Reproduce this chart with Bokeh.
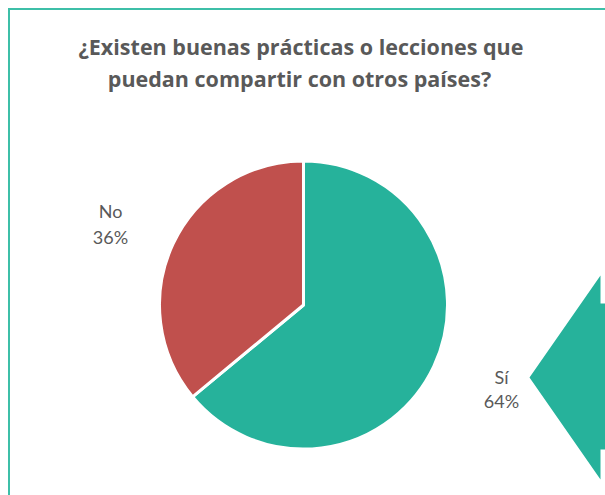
import math
from bokeh.plotting import figure
from bokeh.models import Range1d, ColumnDataSource
from bokeh.core.properties import value
from bokeh.embed import file_html
from bokeh.resources import INLINE

# ---- data ----
categories = ["Sí", "No"]
shares = [64, 36]
slice_colors = ["#26B29B", "#C0504D"]
title_lines = ["¿Existen buenas prácticas o lecciones que",
               "puedan compartir con otros países?"]

# decorative arrow shape (figure pixel space)
arrow_x = [529, 600, 600, 620, 620, 600, 600]
arrow_y = [118, 220, 192, 192, 46, 46, 16]

W, H = 605, 495
p = figure(width=W, height=H, x_range=Range1d(0, W), y_range=Range1d(0, H),
           output_backend="svg", toolbar_location=None, min_border=0)
p.axis.visible = False
p.grid.visible = False
p.outline_line_color = None
p.background_fill_color = "white"

# border (left and top visible)
p.line([8.5, 8.5], [-20, 487], line_color="#3DBFA8", line_width=2)
p.line([7.5, 620], [486.5, 486.5], line_color="#3DBFA8", line_width=2)

# pie
cx, cy, r = 303, 190.5, 144
total = sum(shares)
# Sí: clockwise from 12 o'clock; No: counterclockwise from 12 o'clock
si_ang = shares[0] / total * 2 * math.pi
no_ang = shares[1] / total * 2 * math.pi
starts = [math.pi / 2 - si_ang, math.pi / 2]
ends = [math.pi / 2, math.pi / 2 + no_ang]
src = ColumnDataSource(dict(x=[cx] * 2, y=[cy] * 2, start=starts, end=ends,
                            color=slice_colors))
p.wedge(x="x", y="y", radius=r, start_angle="start", end_angle="end",
        fill_color="color", line_color="white", line_width=3, source=src)

# arrow
p.patch(arrow_x, arrow_y, fill_color="#26B29B", line_color=None)

# title
p.text(x=[300.5, 299], y=[449, 417.5], text=title_lines,
       text_font=value("Open Sans"), text_font_style="bold", text_font_size="21.5px",
       text_color="#595959", text_align="center", text_baseline="alphabetic")

# data labels
lab_x = [501, 110]
lab_y1 = [118.7, 284.7]
lab_y2 = [94.3, 258.7]
p.text(x=lab_x, y=lab_y1, text=categories, text_font=value("Lato"),
       text_font_size="18px", text_color="#595959", text_align="center",
       text_baseline="alphabetic")
p.text(x=lab_x, y=lab_y2, text=[f"{v}%" for v in shares], text_font=value("Lato"),
       text_font_size="18px", text_color="#595959", text_align="center",
       text_baseline="alphabetic")

open("out.html", "w").write(file_html(p, INLINE))
